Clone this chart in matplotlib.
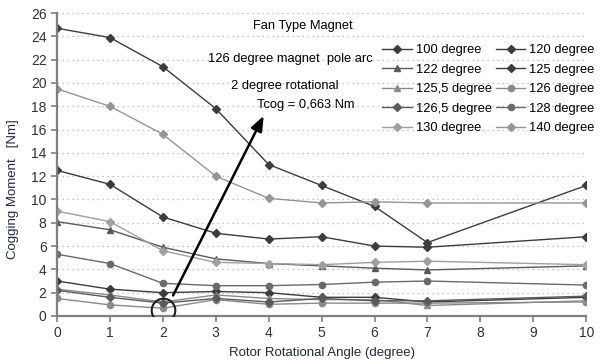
import matplotlib
matplotlib.use("Agg")
import matplotlib.pyplot as plt

angles = [0, 1, 2, 3, 4, 5, 6, 7, 10]

labels = ["100 degree", "120 degree", "122 degree", "125 degree", "125,5 degree",
          "126 degree", "126,5 degree", "128 degree", "130 degree", "140 degree"]

s100 = [24.7, 23.9, 21.4, 17.8, 13.0, 11.2, 9.4, 6.3, 11.2]
s120 = [12.5, 11.3, 8.5, 7.1, 6.6, 6.8, 6.0, 5.9, 6.8]
s122 = [8.1, 7.4, 5.9, 4.9, 4.5, 4.3, 4.1, 3.95, 4.3]
s125 = [3.0, 2.3, 2.0, 2.1, 2.0, 1.6, 1.6, 1.2, 1.6]
s1255 = [2.3, 1.8, 1.2, 1.8, 1.5, 1.4, 1.4, 0.9, 1.3]
s126 = [1.5, 0.95, 0.663, 1.4, 1.0, 1.1, 1.1, 1.1, 1.2]
s1265 = [2.2, 1.6, 1.1, 1.5, 1.2, 1.5, 1.3, 1.3, 1.7]
s128 = [5.3, 4.5, 2.8, 2.6, 2.6, 2.7, 2.9, 3.0, 2.65]
s130 = [9.0, 8.1, 5.6, 4.6, 4.5, 4.4, 4.6, 4.7, 4.4]
s140 = [19.5, 18.0, 15.6, 12.0, 10.1, 9.7, 9.8, 9.7, 9.7]

series = [s100, s120, s122, s125, s1255, s126, s1265, s128, s130, s140]
markers = ["D", "D", "^", "D", "^", "o", "D", "o", "D", "D"]
colors = ["#3c3c3c", "#3c3c3c", "#5a5a5a", "#3c3c3c", "#8a8a8a",
          "#8a8a8a", "#5a5a5a", "#6a6a6a", "#a0a0a0", "#959595"]

yticks = list(range(0, 27, 2))
xticks = list(range(0, 11))

plt.rcParams['font.family'] = ['Liberation Sans Narrow', 'Liberation Sans', 'DejaVu Sans']

fig = plt.figure(figsize=(6.0, 3.64), dpi=100)
ax = fig.add_axes([0.095, 0.132, 0.882, 0.832])

handles = []
for vals, lab, m, c in zip(series, labels, markers, colors):
    h, = ax.plot(angles, vals, color=c, lw=1.0, marker=m,
                 ms=4.5 if m != "D" else 3.8, label=lab)
    handles.append(h)

ax.set_xlim(0, 10)
ax.set_ylim(0, 26)
ax.set_xticks(xticks)
ax.set_yticks(yticks)
ax.yaxis.grid(True, linestyle=(0, (1, 3)), color="#b0b0b0", lw=0.9)
ax.set_axisbelow(True)
for sp in ["top", "right"]:
    ax.spines[sp].set_visible(False)
for sp in ["left", "bottom"]:
    ax.spines[sp].set_color("#808080")
    ax.spines[sp].set_linewidth(1.6)
ax.tick_params(axis="both", colors="#808080", labelcolor="#333333",
               labelsize=10, length=4, width=1.2)

ax.set_xlabel("Rotor Rotational Angle (degree)", fontsize=9.5, color="#1f2a44", labelpad=5)
ax.set_ylabel("Cogging Moment   [Nm]", fontsize=9.5, color="#1f2a44", labelpad=9)
ax.yaxis.set_label_coords(-0.072, 0.42)

# legend order: row-wise in 2 columns
order = [0, 2, 4, 6, 8, 1, 3, 5, 7, 9]
leg = ax.legend([handles[i] for i in order], [labels[i] for i in order],
                ncol=2, loc="upper left", bbox_to_anchor=(0.605, 0.915),
                frameon=False, fontsize=9.3, handlelength=2.3,
                columnspacing=0.3, handletextpad=0.3, labelspacing=0.58,
                borderaxespad=0.0)

ax.text(4.65, 24.9, "Fan Type Magnet", ha="center", va="center", fontsize=9.3)
ax.text(4.4, 22.1, "126 degree magnet  pole arc", ha="center", va="center", fontsize=9.3)
ax.text(4.3, 19.7, "2 degree rotational", ha="center", va="center", fontsize=9.3)
ax.text(4.7, 18.1, "Tcog = 0,663 Nm", ha="center", va="center", fontsize=9.3)

ax.plot([2.0], [0.55], marker="o", ms=17, mfc="none", mec="#202020", mew=1.5, zorder=5)
ax.annotate("", xy=(3.93, 17.4), xytext=(2.17, 1.55),
            arrowprops=dict(arrowstyle="-|>,head_length=0.9,head_width=0.35",
                            color="black", lw=1.8))

fig.savefig("out.png", dpi=100)
